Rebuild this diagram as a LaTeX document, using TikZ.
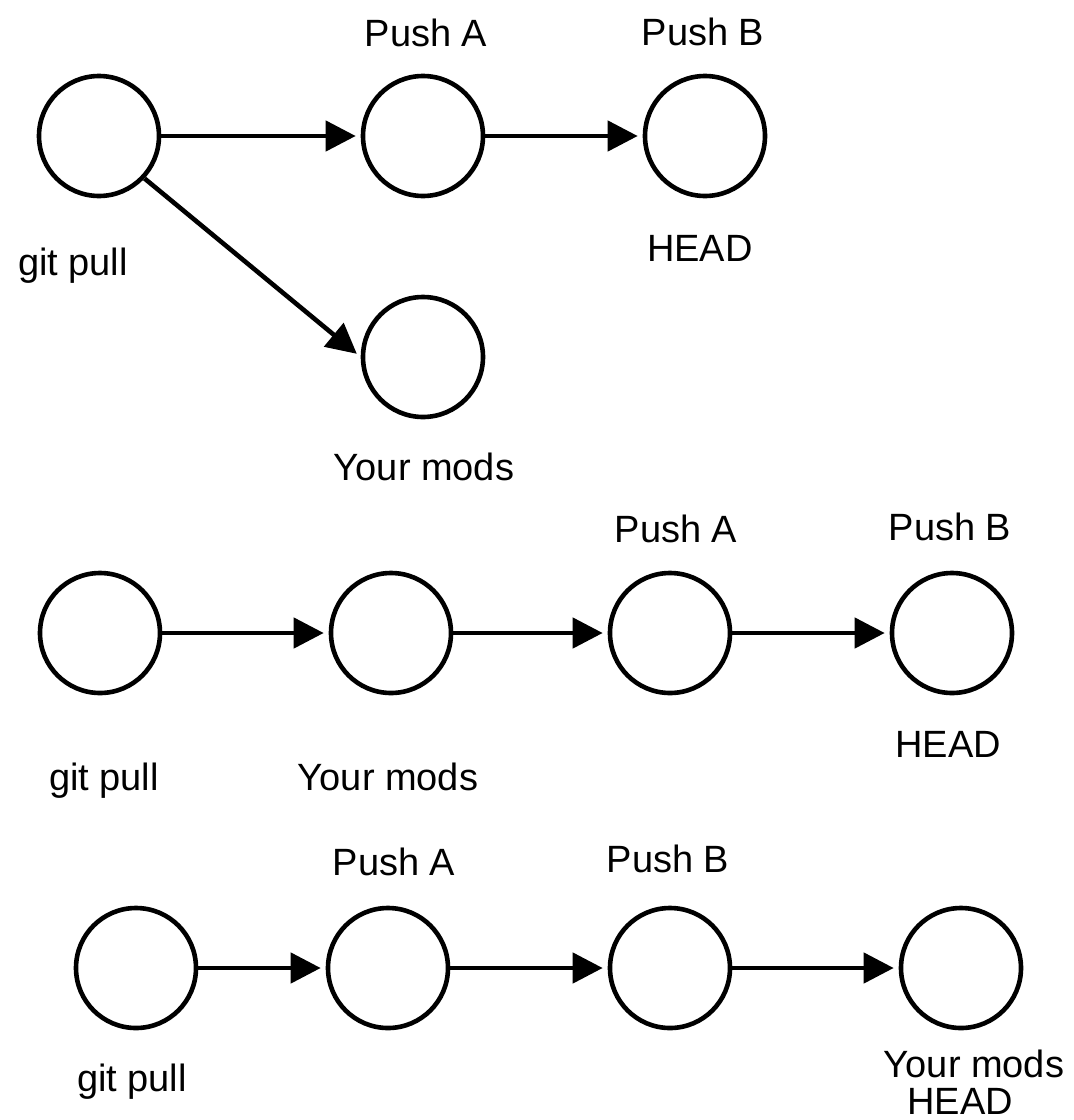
\documentclass[tikz,border=0pt]{standalone}
\usepackage{fontspec}
\setmainfont{Liberation Sans}
\usetikzlibrary{arrows.meta}
\begin{document}
\begin{tikzpicture}[x=1pt,y=-1pt,
  commit/.style={circle,draw,line width=4.6pt,minimum size=120pt,inner sep=0pt},
  lbl/.style={anchor=base,font=\fontsize{38}{40}\selectfont,inner sep=0pt},
  arr/.style={line width=4.6pt,-{Triangle[length=30pt,width=30pt]},shorten >=5pt}]
\useasboundingbox (0,0) rectangle (1074,1120);
% Row 1
\node[commit] (g1) at (99,136) {};
\node[commit] (a1) at (423,136) {};
\node[commit] (b1) at (705,136) {};
\node[commit] (m1) at (423,357) {};
\node[lbl] (ta1) at (426,46) {Push A};
\node[lbl] (tb1) at (703,45) {Push B};
\node[lbl] (th1) at (700,261) {HEAD};
\node[lbl] (tg1) at (73,275) {git pull};
\node[lbl] (tm1) at (424,480) {Your mods};
\draw[arr] (g1.east) -- (a1.west);
\draw[arr] (a1.east) -- (b1.west);
\draw[arr] (g1.-43) -- (m1.west);
% Row 2
\node[commit] (g2) at (100,633) {};
\node[commit] (m2) at (391,633) {};
\node[commit] (a2) at (670,633) {};
\node[commit] (b2) at (952,633) {};
\node[lbl] (ta2) at (676,542) {Push A};
\node[lbl] (tb2) at (950,540) {Push B};
\node[lbl] (th2) at (948,757) {HEAD};
\node[lbl] (tg2) at (104,790) {git pull};
\node[lbl] (tm2) at (388,790) {Your mods};
\draw[arr] (g2.east) -- (m2.west);
\draw[arr] (m2.east) -- (a2.west);
\draw[arr] (a2.east) -- (b2.west);
% Row 3
\node[commit] (g3) at (136,968) {};
\node[commit] (a3) at (388,968) {};
\node[commit] (b3) at (670,968) {};
\node[commit] (m3) at (961,968) {};
\node[lbl] (ta3) at (394,875) {Push A};
\node[lbl] (tb3) at (668,872) {Push B};
\node[lbl] (tg3) at (132,1091) {git pull};
\node[lbl] (tm3) at (974,1077) {Your mods};
\node[lbl] (th3) at (960,1114) {HEAD};
\draw[arr] (g3.east) -- (a3.west);
\draw[arr] (a3.east) -- (b3.west);
\draw[arr] (b3.east) -- (m3.west);
\end{tikzpicture}
\end{document}
